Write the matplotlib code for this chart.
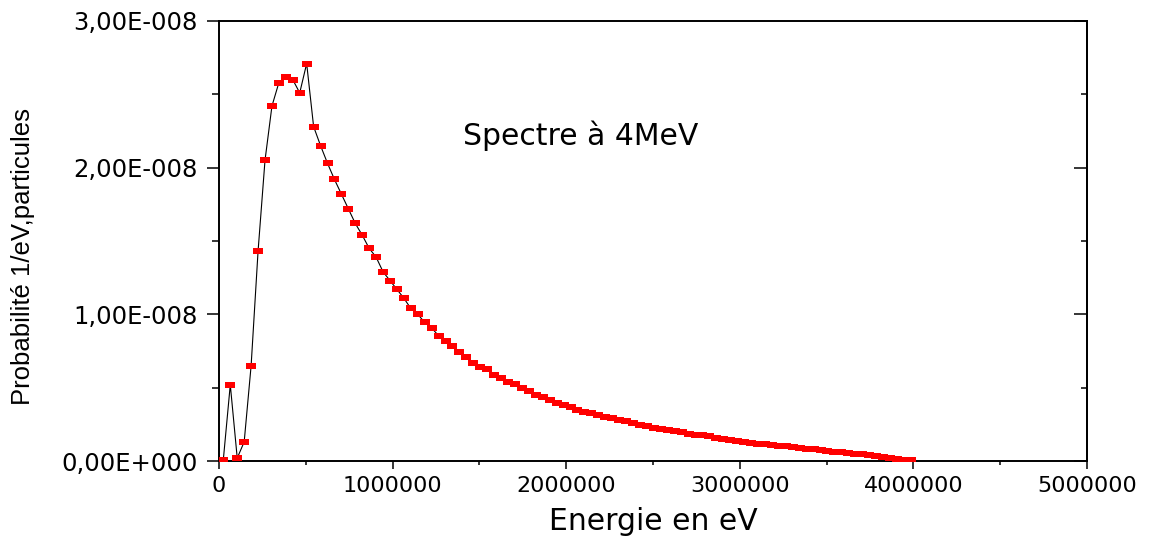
import numpy as np
import matplotlib
matplotlib.use("Agg")
import matplotlib.pyplot as plt
from matplotlib.ticker import FuncFormatter, MultipleLocator

# bin centres (eV) and probability per eV per particle
energie = [25000 + 40000 * i for i in range(100)]
proba_e8 = [
    0.01, 0.52, 0.02, 0.13, 0.65, 1.43, 2.05, 2.42, 2.58, 2.62,
    2.60, 2.51, 2.71, 2.28, 2.15, 2.03, 1.92, 1.82, 1.72, 1.62,
    1.54, 1.45, 1.39, 1.29, 1.23, 1.17, 1.11, 1.04, 1.00, 0.945,
    0.907, 0.854, 0.82, 0.784, 0.741, 0.707, 0.67, 0.641, 0.625, 0.586,
    0.568, 0.541, 0.525, 0.496, 0.477, 0.45, 0.438, 0.416, 0.397, 0.382,
    0.365, 0.348, 0.336, 0.325, 0.313, 0.302, 0.292, 0.281, 0.270, 0.259,
    0.248, 0.237, 0.227, 0.219, 0.211, 0.203, 0.196, 0.186, 0.180, 0.178,
    0.168, 0.158, 0.150, 0.142, 0.135, 0.129, 0.124, 0.119, 0.114, 0.108,
    0.104, 0.099, 0.094, 0.089, 0.084, 0.079, 0.074, 0.069, 0.064, 0.060,
    0.055, 0.050, 0.045, 0.039, 0.034, 0.028, 0.022, 0.016, 0.010, 0.004,
]
proba = [p * 1e-8 for p in proba_e8]

plt.rcParams["font.family"] = ["DejaVu Sans"]


def fmt_y(v, pos):
    if v == 0:
        return "0,00E+000"
    e = int(np.floor(np.log10(abs(v)) + 1e-9))
    m = v / 10 ** e
    return ("%.2f" % m).replace(".", ",") + "E%+04d" % e


fig = plt.figure(figsize=(11.49, 5.39), dpi=100)
ax = fig.add_axes([219 / 1149, 1 - 461 / 539, 868 / 1149, 440 / 539])

rect = [(-1, -0.6), (1, -0.6), (1, 0.6), (-1, 0.6), (-1, -0.6)]
ax.plot(energie, proba, "-", color="black", lw=0.8, zorder=2)
ax.plot(energie, proba, ls="none", marker=rect, ms=6.5, mfc="red", mec="red", mew=0, zorder=3)

ax.set_xlim(0, 5000000)
ax.set_ylim(0, 3e-8)
ax.xaxis.set_major_locator(MultipleLocator(1000000))
ax.xaxis.set_minor_locator(MultipleLocator(500000))
ax.yaxis.set_major_locator(MultipleLocator(1e-8))
ax.yaxis.set_minor_locator(MultipleLocator(0.5e-8))
ax.xaxis.set_major_formatter(FuncFormatter(lambda v, p: "%d" % v))
ax.yaxis.set_major_formatter(FuncFormatter(fmt_y))

for s in ax.spines.values():
    s.set_linewidth(1.4)

ax.tick_params(axis="x", which="major", direction="out", length=6, width=1.1,
               top=False, labelsize=16, pad=5)
ax.tick_params(axis="x", which="minor", direction="out", length=3, width=1.1, top=False)
ax.tick_params(axis="y", which="major", direction="out", length=8.6, width=1.1,
               right=False, labelsize=17.5, pad=7)
ax.tick_params(axis="y", which="minor", direction="out", length=5, width=1.1, right=False)

sec = ax.secondary_yaxis("right")
sec.yaxis.set_major_locator(MultipleLocator(1e-8))
sec.yaxis.set_minor_locator(MultipleLocator(0.5e-8))
sec.tick_params(which="major", direction="in", length=9.5, width=1.1, labelright=False)
sec.tick_params(which="minor", direction="in", length=4.5, width=1.1)
sec.spines["right"].set_linewidth(1.4)

ax.set_xlabel("Energie en eV", fontsize=21.5)
ax.set_ylabel("Probabilité 1/eV,particules", fontsize=18.5, family=["Liberation Sans", "DejaVu Sans"])
ax.xaxis.set_label_coords(0.5, -0.105)
ax.yaxis.set_label_coords(-0.212, 0.465)

ax.text(0.281, 0.74, "Spectre à 4MeV", transform=ax.transAxes, fontsize=21.5,
        va="center", ha="left")

fig.savefig("out.png", dpi=100)
